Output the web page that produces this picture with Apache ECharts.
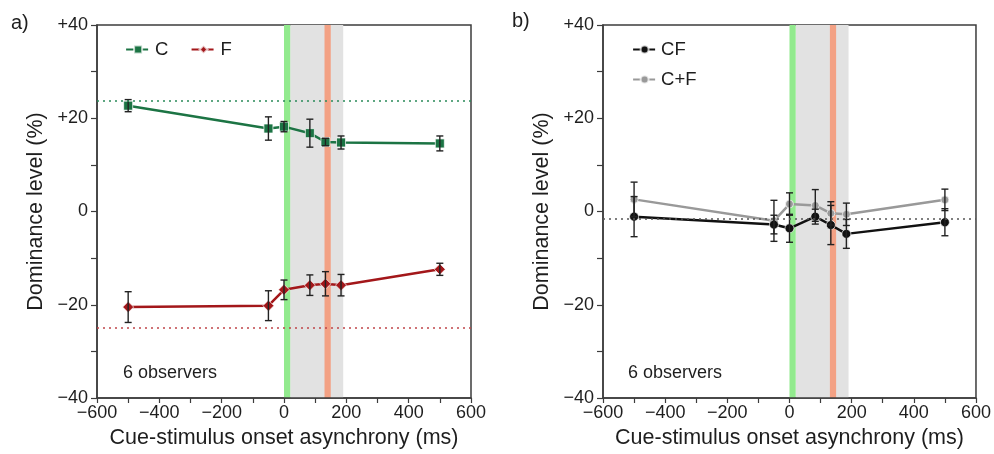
<!DOCTYPE html>
<html>
<head>
<meta charset="utf-8">
<script src="https://cdn.jsdelivr.net/npm/echarts@6/dist/echarts.min.js"></script>
<style>
  html, body { margin: 0; padding: 0; background: #fff; }
  #chart { width: 994px; height: 454px; }
</style>
</head>
<body>
<div id="chart"></div>
<script>
// Cue-stimulus onset asynchronies (ms)
const soa = [-500, -50, 0, 83, 133, 183, 500];

// Panel a: single-feature cues
const cMean = [22.7, 17.8, 18.2, 16.8, 14.9, 14.8, 14.6];
const cErr  = [1.3, 2.5, 1.1, 3.0, 0.8, 1.4, 1.6];
const fMean = [-20.5, -20.2, -16.8, -15.8, -15.5, -15.8, -12.4];
const fErr  = [3.3, 3.2, 2.1, 2.2, 2.6, 2.3, 1.3];

// Panel b: conjunction vs. summed cues
const cfMean  = [-1.1, -2.8, -3.6, -1.1, -2.9, -4.8, -2.3];
const cfErr   = [4.3, 2.0, 3.0, 1.6, 4.2, 3.1, 2.9];
const cpfMean = [2.6, -2.0, 1.6, 1.3, -0.4, -0.6, 2.5];
const cpfErr  = [3.7, 4.4, 2.4, 3.4, 2.5, 2.4, 2.3];

// Baseline dominance levels (dotted lines)
const cBaseline = 23.7;
const fBaseline = -25.0;
const cfBaseline = -1.6;

// Timing bands (ms): [start, end]
const cueBand = [0, 20];
const windowBand = [20, 190];
const stimBand = [130, 150];

const xTicks = [-600, -400, -200, 0, 200, 400, 600];
const yTicks = [-40, -20, 0, 20, 40];

const GREEN = '#1c7444';
const RED = '#a3171a';
const BLACK = '#111111';
const GREY = '#999999';
const AXIS = '#3c3c3c';
const TEXT = '#1e1e1e';
const FONT = '"Liberation Sans", Arial, Helvetica, sans-serif';

const bands = [
  { range: windowBand, color: '#e2e2e2' },
  { range: cueBand, color: '#92ea8e' },
  { range: stimBand, color: '#f3a184' }
];

function yFmt(v) {
  if (v > 0) return '+' + v;
  if (v < 0) return '\u2212' + Math.abs(v);
  return '0';
}
function xFmt(v) {
  return v < 0 ? '\u2212' + Math.abs(v) : String(v);
}

function makeX(gi) {
  return {
    type: 'value', gridIndex: gi, min: xTicks[0], max: xTicks[xTicks.length - 1], interval: 200,
    name: 'Cue-stimulus onset asynchrony (ms)', nameLocation: 'middle', nameGap: 29,
    nameTextStyle: { fontFamily: FONT, fontSize: 21.5, color: TEXT },
    axisLine: { show: true, onZero: false, lineStyle: { color: AXIS, width: 1.5 } },
    axisTick: { show: true, inside: false, length: 5, lineStyle: { color: AXIS, width: 1.2 } },
    minorTick: { show: true, splitNumber: 2, length: 5, lineStyle: { color: AXIS, width: 1.2 } },
    axisLabel: { formatter: xFmt, fontFamily: FONT, fontSize: 18, color: TEXT, margin: 6 },
    splitLine: { show: false }
  };
}
function makeY(gi) {
  return {
    type: 'value', gridIndex: gi, min: yTicks[0], max: yTicks[yTicks.length - 1], interval: 20,
    name: 'Dominance level (%)', nameLocation: 'middle', nameGap: 50, nameRotate: 90,
    nameTextStyle: { fontFamily: FONT, fontSize: 21.5, color: TEXT },
    axisLine: { show: true, onZero: false, lineStyle: { color: AXIS, width: 1.5 } },
    axisTick: { show: true, inside: false, length: 6, lineStyle: { color: AXIS, width: 1.2 } },
    minorTick: { show: true, splitNumber: 2, length: 6, lineStyle: { color: AXIS, width: 1.2 } },
    axisLabel: { formatter: yFmt, fontFamily: FONT, fontSize: 18, color: TEXT, margin: 9 },
    splitLine: { show: false }
  };
}

// Vertical shaded bands spanning the full y range
function bandSeries(gi) {
  return {
    type: 'custom', xAxisIndex: gi, yAxisIndex: gi, z: 0, silent: true,
    data: bands.map(b => [b.range[0], b.range[1]]),
    renderItem: function (params, api) {
      const b = bands[params.dataIndex];
      const p0 = api.coord([api.value(0), yTicks[yTicks.length - 1]]);
      const p1 = api.coord([api.value(1), yTicks[0]]);
      return {
        type: 'rect',
        shape: { x: p0[0], y: p0[1], width: p1[0] - p0[0], height: p1[1] - p0[1] },
        style: { fill: b.color }
      };
    }
  };
}

// Error bars with caps
function errSeries(gi, mean, err, z) {
  return {
    type: 'custom', xAxisIndex: gi, yAxisIndex: gi, z: z, silent: true,
    data: soa.map((x, i) => [x, mean[i] - err[i], mean[i] + err[i]]),
    renderItem: function (params, api) {
      const lo = api.coord([api.value(0), api.value(1)]);
      const hi = api.coord([api.value(0), api.value(2)]);
      const cw = 3.5;
      const st = { stroke: '#222', lineWidth: 1.4 };
      return {
        type: 'group',
        children: [
          { type: 'line', shape: { x1: lo[0], y1: lo[1], x2: hi[0], y2: hi[1] }, style: st },
          { type: 'line', shape: { x1: lo[0] - cw, y1: lo[1], x2: lo[0] + cw, y2: lo[1] }, style: st },
          { type: 'line', shape: { x1: hi[0] - cw, y1: hi[1], x2: hi[0] + cw, y2: hi[1] }, style: st }
        ]
      };
    }
  };
}

function lineSeries(gi, name, mean, color, symbol, size, z, baseline, baseColor) {
  const s = {
    type: 'line', name: name, xAxisIndex: gi, yAxisIndex: gi, z: z,
    data: soa.map((x, i) => [x, mean[i]]),
    symbol: symbol, symbolSize: size, showSymbol: true,
    lineStyle: { color: color, width: 2.5 },
    itemStyle: { color: color, borderColor: 'rgba(255,255,255,0.7)', borderWidth: 1 },
    emphasis: { disabled: true },
    animation: false
  };
  if (baseline !== undefined) {
    s.markLine = {
      silent: true, symbol: 'none', label: { show: false },
      lineStyle: { color: baseColor, type: [2, 4], width: 1.6 },
      data: [{ yAxis: baseline }]
    };
  }
  return s;
}

const chart = echarts.init(document.getElementById('chart'), null, { renderer: 'canvas' });
chart.setOption({
  animation: false,
  backgroundColor: '#ffffff',
  grid: [
    { left: 97, top: 25, width: 374, height: 373, show: true, borderColor: AXIS, borderWidth: 1.5, backgroundColor: 'transparent' },
    { left: 603, top: 25, width: 374, height: 373, show: true, borderColor: AXIS, borderWidth: 1.5, backgroundColor: 'transparent' }
  ],
  xAxis: [makeX(0), makeX(1)],
  yAxis: [makeY(0), makeY(1)],
  legend: [
    {
      data: ['C', 'F'], left: 125, top: 40, padding: 0, orient: 'horizontal', itemGap: 22,
      itemWidth: 24, itemHeight: 10, lineStyle: { type: 'dashed', width: 2.2 },
      textStyle: { fontFamily: FONT, fontSize: 18.5, color: TEXT }, selectedMode: false
    },
    {
      data: ['CF', 'C+F'], left: 632, top: 40, padding: 0, orient: 'vertical', itemGap: 11,
      itemWidth: 23, itemHeight: 10, lineStyle: { type: 'dashed', width: 2.2 },
      textStyle: { fontFamily: FONT, fontSize: 18.5, color: TEXT }, selectedMode: false
    }
  ],
  graphic: [
    { type: 'text', left: 11, top: 13, style: { text: 'a)', font: '20px ' + FONT, fill: TEXT } },
    { type: 'text', left: 512, top: 11, style: { text: 'b)', font: '20px ' + FONT, fill: TEXT } },
    { type: 'text', left: 123, top: 364, style: { text: '6 observers', font: '18px ' + FONT, fill: TEXT } },
    { type: 'text', left: 628, top: 364, style: { text: '6 observers', font: '18px ' + FONT, fill: TEXT } }
  ],
  series: [
    bandSeries(0),
    bandSeries(1),
    lineSeries(0, 'C', cMean, GREEN, 'rect', 9, 3, cBaseline, '#2a8a5a'),
    lineSeries(0, 'F', fMean, RED, 'diamond', 11, 3, fBaseline, '#c0464a'),
    errSeries(0, cMean, cErr, 4),
    errSeries(0, fMean, fErr, 4),
    lineSeries(1, 'C+F', cpfMean, GREY, 'circle', 8, 3),
    lineSeries(1, 'CF', cfMean, BLACK, 'circle', 9, 3, cfBaseline, '#555555'),
    errSeries(1, cpfMean, cpfErr, 4),
    errSeries(1, cfMean, cfErr, 4)
  ]
});
</script>
</body>
</html>
